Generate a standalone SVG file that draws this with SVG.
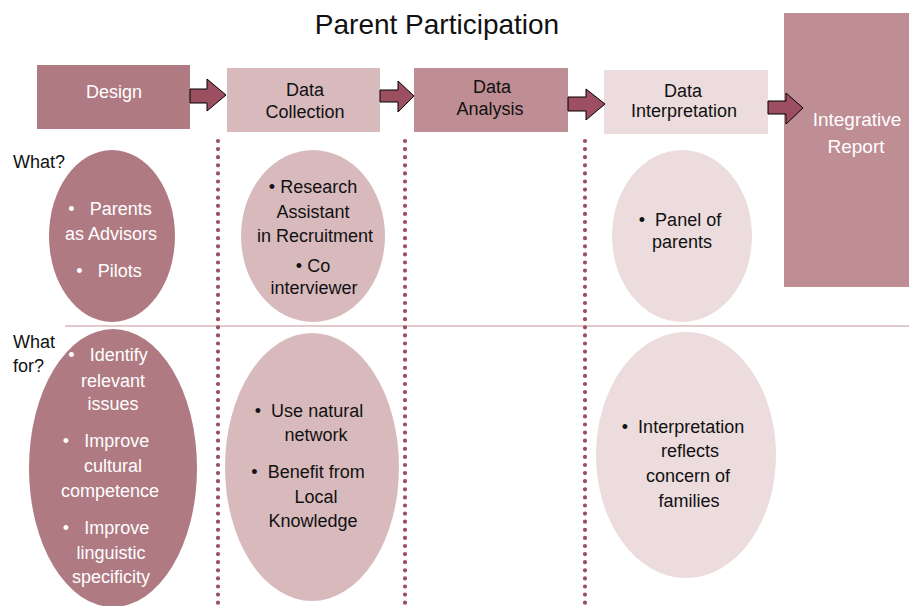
<svg xmlns="http://www.w3.org/2000/svg" width="909" height="606" viewBox="0 0 909 606">
<style>
text{font-family:"Liberation Sans",Arial,sans-serif;text-anchor:middle}
.t{font-size:18px}
.w{fill:#ffffff}
.d{fill:#111111}
.lbl{font-size:18px;text-anchor:start;fill:#111}
.arr{fill:#9c4f60;stroke:#000;stroke-width:1}
.dot{stroke:#9b4f5f;stroke-width:4.2;stroke-linecap:round;stroke-dasharray:0 8.1;fill:none}
</style>
<rect width="909" height="606" fill="#fff"/>
<text x="437" y="34" font-size="28" fill="#111">Parent Participation</text>

<g id="grid">
<line x1="65" y1="326" x2="909" y2="326" stroke="#d9b8bb" stroke-width="1.5"/>
<line class="dot" x1="218" y1="141" x2="218" y2="606"/>
<line class="dot" x1="405" y1="141" x2="405" y2="606"/>
<line class="dot" x1="585" y1="141" x2="585" y2="606"/>
</g>

<g id="design"><rect x="37" y="65" width="153" height="64" fill="#b07a82"/><text class="t w" x="114" y="98">Design</text></g>
<g id="collection"><rect x="227" y="68" width="153" height="64" fill="#d8babd"/><text class="t d" x="305" y="96">Data</text><text class="t d" x="305" y="118">Collection</text></g>
<g id="analysis"><rect x="414" y="68" width="154" height="64" fill="#bf8d94"/><text class="t d" x="492" y="93">Data</text><text class="t d" x="490" y="115">Analysis</text></g>
<g id="interpretation"><rect x="604" y="70" width="164" height="64" fill="#ecdcdd"/><text class="t d" x="683" y="97">Data</text><text class="t d" x="684" y="117">Interpretation</text></g>
<g id="report"><rect x="784" y="13" width="125" height="274" fill="#bf8d94"/><text class="w" font-size="19" x="857" y="126">Integrative</text><text class="w" font-size="19" x="856" y="153">Report</text></g>

<g id="connectors">
<polygon class="arr" points="190,89 207,89 207,79 226,95 207,111 207,103 190,103"/>
<polygon class="arr" points="380,90 398,90 398,81 414,96 398,112 398,102 380,102"/>
<polygon class="arr" points="568,97 586,97 586,89 605,104 586,120 586,111 568,111"/>
<polygon class="arr" points="768,101 786,101 786,93 803,108 786,124 786,114 768,114"/>
</g>

<text class="lbl" x="13" y="168">What?</text>
<text class="lbl" x="13" y="348">What</text>
<text class="lbl" x="13" y="372">for?</text>

<g id="design-what"><ellipse cx="112" cy="236" rx="63" ry="86" fill="#b07a82"/>
<text class="t w" x="110" y="215">•&#160;&#160;&#160;Parents</text><text class="t w" x="111" y="240">as Advisors</text><text class="t w" x="109" y="277">•&#160;&#160;&#160;Pilots</text></g>

<g id="collection-what"><ellipse cx="313" cy="236" rx="72" ry="86" fill="#d8babd"/>
<text class="t d" x="313" y="193">• Research</text><text class="t d" x="313" y="218">Assistant</text><text class="t d" x="315" y="242">in Recruitment</text><text class="t d" x="313" y="272">• Co</text><text class="t d" x="314" y="294">interviewer</text></g>

<g id="interp-what"><ellipse cx="682" cy="236" rx="70" ry="86" fill="#ecdcdd"/>
<text class="t d" x="680" y="226">•&#160;&#160;Panel of</text><text class="t d" x="682" y="248">parents</text></g>

<g id="design-whatfor"><ellipse cx="113" cy="468" rx="84" ry="139" fill="#b07a82"/>
<text class="t w" x="108" y="361">•&#160;&#160;&#160;Identify</text><text class="t w" x="113" y="387">relevant</text><text class="t w" x="113" y="410">issues</text>
<text class="t w" x="106" y="447">•&#160;&#160;&#160;Improve</text><text class="t w" x="113" y="472">cultural</text><text class="t w" x="110" y="497">competence</text>
<text class="t w" x="106" y="534">•&#160;&#160;&#160;Improve</text><text class="t w" x="111" y="559">linguistic</text><text class="t w" x="111" y="583">specificity</text></g>

<g id="collection-whatfor"><ellipse cx="312" cy="467" rx="87" ry="134" fill="#d8babd"/>
<text class="t d" x="309" y="417">•&#160;&#160;Use natural</text><text class="t d" x="316" y="441">network</text>
<text class="t d" x="308" y="478">•&#160;&#160;Benefit from</text><text class="t d" x="316" y="503">Local</text><text class="t d" x="313" y="527">Knowledge</text></g>

<g id="interp-whatfor"><ellipse cx="686" cy="455" rx="90" ry="123" fill="#ecdcdd"/>
<text class="t d" x="683" y="433">•&#160;&#160;Interpretation</text><text class="t d" x="690" y="457">reflects</text><text class="t d" x="688" y="482">concern of</text><text class="t d" x="689" y="507">families</text></g>
</svg>
